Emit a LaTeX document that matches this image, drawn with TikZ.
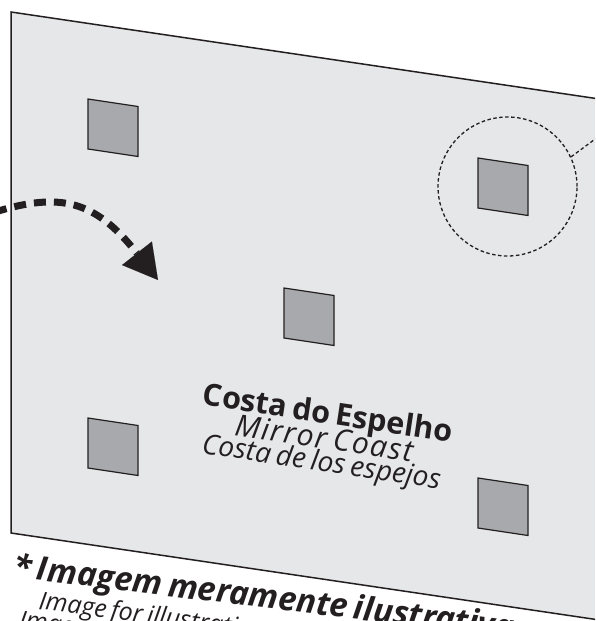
\documentclass[tikz,border=0pt]{standalone}
\usepackage{fontspec}
\usepackage{tikz}
\usetikzlibrary{arrows.meta}
\newfontfamily\signfont[WordSpace=0.7]{Open Sans}
\definecolor{panelgray}{HTML}{E6E7E8}
\definecolor{panegray}{HTML}{A7A9AC}
\definecolor{inkdark}{HTML}{231F20}

\begin{document}
\begin{tikzpicture}[x=1pt, y=-1pt]
    % Styles
    \tikzstyle{panel} = [draw=inkdark, fill=panelgray, line width=1.5pt]
    \tikzstyle{pane} = [draw=inkdark, fill=panegray, line width=1.2pt]
    \tikzstyle{ring} = [circle, draw=inkdark, dash pattern=on 3.5pt off 2.5pt, line width=1.3pt,
        minimum size=139pt, inner sep=0pt]
    \tikzstyle{leader} = [draw=inkdark, dash pattern=on 3.5pt off 2.5pt, line width=1.3pt]
    \tikzstyle{swing} = [draw=inkdark, line width=7pt, dash pattern=on 12pt off 8pt,
        -{Triangle[length=34pt, width=38pt, line width=0.1pt]}]
    \tikzstyle{title} = [font=\signfont\bfseries\fontsize{30.5}{30.5}\selectfont, text=inkdark,
        inner sep=0pt, anchor=base, rotate=-8.5]
    \tikzstyle{subtitle} = [font=\signfont\itshape\fontsize{28}{28}\selectfont, text=inkdark,
        inner sep=0pt, anchor=base, rotate=-8.5]
    \tikzstyle{note} = [font=\signfont\itshape\fontsize{25}{25}\selectfont, text=inkdark,
        inner sep=0pt, anchor=base west, rotate=-7.5]

    \useasboundingbox (0,0) rectangle (595,621);
    \clip (0,0) rectangle (595,621);

    % Panel
    \path[panel] (11,12) -- (640,105) -- (640,626) -- (11,533) -- cycle;

    % Panes
    \foreach \px/\py in {88/99, 478/158, 284/288, 88/418, 478/478}
        \path[pane] (\px,\py) -- ++(50,7.5) -- ++(0,50) -- ++(-50,-7.5) -- cycle;

    % Ring and leader
    \node[ring] (ring) at (507.5,186.5) {};
    \coordinate (leaderend) at (610,128);
    \draw[leader] (ring.25) -- (leaderend);

    % Swing arrow
    \coordinate (swingstart) at (-5,212);
    \coordinate (swingtip) at (158,280);
    \draw[swing] (swingstart) .. controls (60,192) and (95,200) .. (swingtip);

    % Labels
    \node[title] (coast) at (326.6,423.5) {Costa do Espelho};
    \node[subtitle, font=\signfont\itshape\fontsize{30}{30}\selectfont] (mirror)
        at (322.6,448.6) {\addfontfeature{LetterSpace=5}Mirror Coast};
    \node[subtitle] (espejos) at (320.2,471) {Costa de los espejos};

    % Disclaimer
    \node[note, rotate=0.5, font=\signfont\bfseries\itshape\fontsize{33}{33}\selectfont] (disclaimer)
        at (12,577) {* Imagem meramente ilustrativa};
    \node[note] (purpose) at (38,609) {Image for illustrative purposes only};
    \node[note] (imagen) at (18,628) {Imagen meramente ilustrativa};
\end{tikzpicture}
\end{document}
